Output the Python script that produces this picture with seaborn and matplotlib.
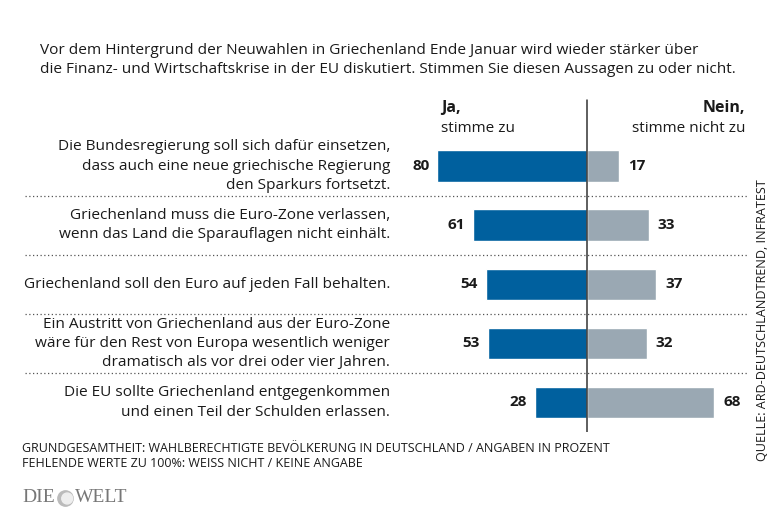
import matplotlib
matplotlib.use("Agg")
import matplotlib.pyplot as plt
import seaborn as sns
import pandas as pd

# ---- data ----
statements = [
    "Die Bundesregierung soll sich dafür einsetzen,\ndass auch eine neue griechische Regierung\nden Sparkurs fortsetzt.",
    "Griechenland muss die Euro-Zone verlassen,\nwenn das Land die Sparauflagen nicht einhält.",
    "Griechenland soll den Euro auf jeden Fall behalten.",
    "Ein Austritt von Griechenland aus der Euro-Zone\nwäre für den Rest von Europa wesentlich weniger\ndramatisch als vor drei oder vier Jahren.",
    "Die EU sollte Griechenland entgegenkommen\nund einen Teil der Schulden erlassen.",
]
ja = [80, 61, 54, 53, 28]
nein = [17, 33, 37, 32, 68]

title = ("Vor dem Hintergrund der Neuwahlen in Griechenland Ende Januar wird wieder stärker über\n"
         "die Finanz- und Wirtschaftskrise in der EU diskutiert. Stimmen Sie diesen Aussagen zu oder nicht.")
footer = ("GRUNDGESAMTHEIT: WAHLBERECHTIGTE BEVÖLKERUNG IN DEUTSCHLAND / ANGABEN IN PROZENT\n"
          "FEHLENDE WERTE ZU 100%: WEISS NICHT / KEINE ANGABE")
source = "QUELLE: ARD-DEUTSCHLANDTREND, INFRATEST"

BLUE = "#00609e"
GREY = "#9aa8b3"
TXT = "#1a1a1a"

sns.set_theme(style="white")
plt.rcParams["font.family"] = ["Open Sans", "DejaVu Sans"]

W, H = 780, 520
fig = plt.figure(figsize=(W / 100, H / 100), dpi=100)

# layout (pixels)
AX_L, AX_R, AX_T, AX_B = 20, 750, 90, 432
ZERO_PX, SCALE = 587, 1.87
ROW0_PX, ROWN_PX = 166, 402.5
n = len(statements)
step = (ROWN_PX - ROW0_PX) / (n - 1)

ax = fig.add_axes([AX_L / W, 1 - AX_B / H, (AX_R - AX_L) / W, (AX_B - AX_T) / H])

def px2x(px):
    return (px - ZERO_PX) / SCALE

df = pd.DataFrame({"statement": statements, "ja": [-v for v in ja], "nein": nein})
sns.barplot(data=df, x="ja", y="statement", color=BLUE, orient="h", width=0.53,
            saturation=1, ax=ax)
sns.barplot(data=df, x="nein", y="statement", color=GREY, orient="h", width=0.53,
            saturation=1, ax=ax)

ax.set_xlim(px2x(AX_L), px2x(AX_R))
ax.set_ylim((AX_B - ROW0_PX) / step, (AX_T - ROW0_PX) / step)
ax.axis("off")

# center line
ax.axvline(0, ymin=0.0, ymax=(AX_B - 100) / (AX_B - AX_T), color="#333333", lw=1.1, zorder=5)

# separators
for i in range(n - 1):
    ax.plot([px2x(25), px2x(747)], [i + 0.5, i + 0.5], color="#555555", lw=0.9,
            linestyle=(0, (1, 2)), zorder=1)

# labels & values
for i, (s, a, b) in enumerate(zip(statements, ja, nein)):
    ax.text(px2x(390), i, s, ha="right", va="center", fontsize=11.1, color=TXT,
            linespacing=1.38)
    ax.text(-a - 4.3, i, str(a), ha="right", va="center", fontsize=11,
            fontweight="bold", color=TXT)
    ax.text(b + 4.8, i, str(b), ha="left", va="center", fontsize=11,
            fontweight="bold", color=TXT)

# headers
fig.text(441 / W, 1 - 108 / H, "Ja,", ha="left", va="center", fontsize=11.5,
         fontweight="bold", color=TXT)
fig.text(441 / W, 1 - 129 / H, "stimme zu", ha="left", va="center", fontsize=11,
         color=TXT)
fig.text(745 / W, 1 - 108 / H, "Nein,", ha="right", va="center", fontsize=11.5,
         fontweight="bold", color=TXT)
fig.text(745 / W, 1 - 129 / H, "stimme nicht zu", ha="right", va="center",
         fontsize=11, color=TXT)

# title
fig.text(40 / W, 1 - 60 / H, title, ha="left", va="center", fontsize=11.1,
         color=TXT, linespacing=1.35)

# footer
fig.text(22 / W, 1 - 456 / H, footer, ha="left", va="center", fontsize=9,
         color=TXT, linespacing=1.2)

# source (vertical)
fig.text(763 / W, 1 - 320 / H, source, ha="center", va="center", rotation=90,
         fontsize=9.1, color=TXT)

# logo
fig.text(22 / W, 1 - 498 / H, "DIE", ha="left", va="center", fontsize=14,
         family="Liberation Serif", color="#777777")
fig.text(75 / W, 1 - 498 / H, "WELT", ha="left", va="center", fontsize=14,
         family="Liberation Serif", color="#777777")
logo_ax = fig.add_axes([57 / W, 1 - 507 / H, 17 / W, 17 / H])
logo_ax.add_patch(plt.Circle((0.5, 0.5), 0.45, color="#bbbbbb"))
logo_ax.add_patch(plt.Circle((0.6, 0.5), 0.32, color="#eeeeee"))
logo_ax.set_xlim(0, 1); logo_ax.set_ylim(0, 1); logo_ax.set_aspect("equal")
logo_ax.axis("off")

fig.savefig("out.png", dpi=100)
